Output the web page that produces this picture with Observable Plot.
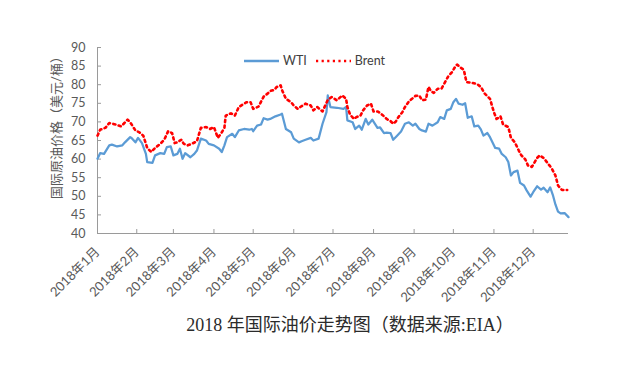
<!DOCTYPE html>
<html>
<head>
<meta charset="utf-8">
<script src="https://cdn.jsdelivr.net/npm/d3@7"></script>
<script src="https://cdn.jsdelivr.net/npm/@observablehq/plot@0.6"></script>
<style>
  html, body { margin: 0; padding: 0; background: #fff; }
  #wrap { position: relative; width: 629px; height: 368px; overflow: hidden; }
  #legend { position: absolute; top: 53px; left: 244px; display: flex; align-items: center;
            font: 12.5px Lato, "Noto Sans CJK SC", sans-serif; color: #404040; }
  #legend .item { display: flex; align-items: center; margin-right: 9px; }
  #legend svg { margin-right: 4px; }
  #title { position: absolute; top: 314px; left: 50px; width: 600px; text-align: center;
           font: 18px "Liberation Serif", "Noto Sans CJK SC", serif; line-height: 22px; color: #2b2b2b; }
</style>
</head>
<body>
<div id="wrap">
  <div id="chart"></div>
  <div id="legend"></div>
  <div id="title"></div>
</div>
<script>
const titleText = "2018 年国际油价走势图（数据来源:EIA）";
const yTitle = "国际原油价格（美元/桶）";
const seriesNames = ["WTI", "Brent"];

const monthTickDates = ["2018-01-02","2018-02-01","2018-03-01","2018-04-01","2018-05-01","2018-06-01",
  "2018-07-01","2018-08-01","2018-09-01","2018-10-01","2018-11-01","2018-12-01"];
const monthLabels = ["2018年1月","2018年2月","2018年3月","2018年4月","2018年5月","2018年6月",
  "2018年7月","2018年8月","2018年9月","2018年10月","2018年11月","2018年12月"];
const yTicks = [40, 45, 50, 55, 60, 65, 70, 75, 80, 85, 90];
const xDomain = ["2018-01-02", "2018-12-28"];

const wtiDates = ["2018-01-02","2018-01-04","2018-01-07","2018-01-11","2018-01-13","2018-01-17","2018-01-21","2018-01-23","2018-01-27","2018-01-28",
  "2018-01-31","2018-02-02","2018-02-05","2018-02-08","2018-02-09","2018-02-13","2018-02-15","2018-02-19","2018-02-22","2018-02-24",
  "2018-02-27","2018-03-01","2018-03-04","2018-03-06","2018-03-08","2018-03-10","2018-03-14","2018-03-17","2018-03-19","2018-03-22",
  "2018-03-26","2018-03-28","2018-04-01","2018-04-05","2018-04-07","2018-04-09","2018-04-11","2018-04-15","2018-04-17","2018-04-20",
  "2018-04-24","2018-04-28","2018-04-30","2018-05-01","2018-05-04","2018-05-07","2018-05-09","2018-05-12","2018-05-14","2018-05-18",
  "2018-05-22","2018-05-23","2018-05-26","2018-05-30","2018-06-01","2018-06-05","2018-06-07","2018-06-10","2018-06-14","2018-06-16",
  "2018-06-20","2018-06-23","2018-06-26","2018-06-27","2018-06-29","2018-07-04","2018-07-09","2018-07-11","2018-07-12","2018-07-16",
  "2018-07-18","2018-07-21","2018-07-23","2018-07-26","2018-07-28","2018-07-31","2018-08-04","2018-08-06","2018-08-09","2018-08-11",
  "2018-08-14","2018-08-16","2018-08-19","2018-08-22","2018-08-25","2018-08-28","2018-08-31","2018-09-02","2018-09-05","2018-09-07",
  "2018-09-10","2018-09-12","2018-09-15","2018-09-19","2018-09-21","2018-09-24","2018-09-26","2018-09-29","2018-10-01","2018-10-03",
  "2018-10-05","2018-10-08","2018-10-10","2018-10-12","2018-10-15","2018-10-17","2018-10-20","2018-10-22","2018-10-24","2018-10-27",
  "2018-10-29","2018-11-02","2018-11-05","2018-11-07","2018-11-10","2018-11-12","2018-11-14","2018-11-16","2018-11-19","2018-11-21",
  "2018-11-24","2018-11-26","2018-11-29","2018-12-01","2018-12-04","2018-12-07","2018-12-09","2018-12-12","2018-12-14","2018-12-16",
  "2018-12-18","2018-12-20","2018-12-22","2018-12-25","2018-12-28"];
const wtiPrices = [60.1,61.6,61.4,63.7,63.9,63.4,63.7,64.5,65.9,65.7,
  64.5,65.7,64.3,61.4,59.2,59.0,61.0,61.6,61.4,63.2,
  63.4,61.0,61.4,62.8,60.1,61.6,60.5,61.4,62.3,65.5,
  65.0,64.1,63.7,62.8,61.9,63.7,65.9,66.8,65.9,67.7,
  68.1,67.9,68.1,67.5,69.0,69.3,71.0,70.6,70.8,71.5,
  72.0,72.2,68.1,67.2,65.5,64.5,64.8,65.2,65.7,65.0,
  65.5,69.5,72.6,77.1,74.0,73.8,73.5,74.0,70.4,69.9,
  68.1,69.0,67.9,70.8,69.3,70.6,68.4,68.5,67.0,67.1,
  67.0,65.2,66.3,67.4,69.5,69.9,69.0,69.5,68.1,67.7,
  67.4,69.5,69.0,69.9,71.3,70.8,73.1,73.5,75.3,76.2,
  74.9,74.6,75.0,71.1,71.5,68.8,69.0,68.0,66.3,67.0,
  65.9,63.0,62.8,61.4,60.5,59.2,55.6,56.5,56.9,53.6,
  52.9,51.6,49.9,51.1,52.7,51.8,52.3,51.1,52.4,50.4,
  47.8,45.9,45.4,45.5,44.4];

const brentDates = ["2018-01-02","2018-01-04","2018-01-08","2018-01-11","2018-01-16","2018-01-20","2018-01-22","2018-01-25","2018-01-27","2018-01-29",
  "2018-01-31","2018-02-03","2018-02-06","2018-02-09","2018-02-12","2018-02-15","2018-02-19","2018-02-22","2018-02-25","2018-02-28",
  "2018-03-02","2018-03-04","2018-03-07","2018-03-09","2018-03-12","2018-03-15","2018-03-19","2018-03-22","2018-03-26","2018-03-29",
  "2018-04-01","2018-04-04","2018-04-07","2018-04-09","2018-04-10","2018-04-14","2018-04-17","2018-04-20","2018-04-24","2018-04-26",
  "2018-04-29","2018-05-01","2018-05-05","2018-05-09","2018-05-12","2018-05-14","2018-05-17","2018-05-19","2018-05-22","2018-05-23",
  "2018-05-26","2018-05-30","2018-06-01","2018-06-04","2018-06-06","2018-06-10","2018-06-14","2018-06-16","2018-06-19","2018-06-23",
  "2018-06-27","2018-06-30","2018-07-04","2018-07-08","2018-07-11","2018-07-12","2018-07-14","2018-07-17","2018-07-19","2018-07-22",
  "2018-07-24","2018-07-27","2018-07-30","2018-08-01","2018-08-04","2018-08-06","2018-08-09","2018-08-11","2018-08-14","2018-08-16",
  "2018-08-18","2018-08-20","2018-08-23","2018-08-25","2018-08-28","2018-08-31","2018-09-02","2018-09-05","2018-09-07","2018-09-10",
  "2018-09-12","2018-09-14","2018-09-16","2018-09-19","2018-09-22","2018-09-25","2018-09-27","2018-09-30","2018-10-03","2018-10-04",
  "2018-10-06","2018-10-09","2018-10-11","2018-10-15","2018-10-19","2018-10-22","2018-10-25","2018-10-29","2018-11-01","2018-11-03",
  "2018-11-06","2018-11-08","2018-11-12","2018-11-14","2018-11-17","2018-11-20","2018-11-22","2018-11-25","2018-11-27","2018-11-30",
  "2018-12-04","2018-12-06","2018-12-09","2018-12-11","2018-12-15","2018-12-18","2018-12-20","2018-12-23","2018-12-27"];
const brentPrices = [66.3,67.9,68.4,69.7,69.3,68.8,69.5,70.6,69.9,68.8,
  67.7,67.2,66.3,63.0,61.9,63.0,64.1,65.2,67.5,67.0,
  64.3,64.5,65.2,64.1,63.7,64.1,64.8,68.4,68.6,68.1,
  68.6,65.7,67.2,68.4,71.7,72.3,71.7,74.0,74.9,75.3,
  75.3,73.5,74.1,76.8,77.6,78.3,78.6,79.4,79.8,78.6,
  76.2,75.3,74.4,73.5,74.0,74.9,74.4,73.1,74.0,72.8,
  75.9,76.7,75.8,77.1,76.2,74.0,72.0,70.8,71.3,71.7,
  73.1,74.4,74.9,72.8,72.8,72.4,71.5,70.8,70.2,69.5,
  70.1,71.3,72.6,74.0,75.5,76.4,77.0,77.1,75.8,76.0,
  79.4,78.2,77.8,78.9,79.0,80.9,82.2,83.4,85.2,85.4,
  84.7,84.0,80.7,80.5,80.2,79.4,77.6,76.2,72.6,70.8,
  71.5,69.3,68.6,65.7,64.5,62.3,61.0,59.9,58.3,57.9,
  60.3,61.0,60.3,59.4,57.6,55.6,52.9,51.7,51.7];

const colors = {WTI: "#5B9BD5", Brent: "#FF0000"};
const parse = s => new Date(s + "T00:00:00Z");
const wti = wtiDates.map((d, i) => ({date: parse(d), value: wtiPrices[i]}));
const brent = brentDates.map((d, i) => ({date: parse(d), value: brentPrices[i]}));
const tickDates = monthTickDates.map(parse);
const labelByTime = new Map(tickDates.map((d, i) => [+d, monthLabels[i]]));
const axisColor = "#9a9a9a";
const fontFamily = 'Lato, "Noto Sans CJK SC", sans-serif';
const brentDash = "2.2 3.4";

const chart = Plot.plot({
  width: 629,
  height: 305,
  marginLeft: 97,
  marginRight: 61,
  marginTop: 47,
  marginBottom: 72,
  style: {fontFamily, fontSize: "12px", color: "#595959", background: "white"},
  x: {type: "utc", domain: xDomain.map(parse)},
  y: {domain: [40, 90]},
  marks: [
    Plot.axisY({ticks: yTicks, tickSize: -4, tickPadding: 16, stroke: axisColor, label: null, fontSize: 12.5}),
    Plot.axisX({ticks: tickDates, tickFormat: d => labelByTime.get(+d), tickRotate: -45,
                tickSize: -4, tickPadding: 20, stroke: axisColor, label: null, fontSize: 13}),
    Plot.ruleX([parse(xDomain[0])], {stroke: axisColor}),
    Plot.ruleY([40], {stroke: axisColor}),
    Plot.line(wti, {x: "date", y: "value", stroke: colors.WTI, strokeWidth: 2.25, strokeLinejoin: "round"}),
    Plot.line(brent, {x: "date", y: "value", stroke: colors.Brent, strokeWidth: 2.6, strokeDasharray: brentDash}),
    Plot.text([yTitle], {frameAnchor: "left", textAnchor: "middle", dx: -41, dy: -16, rotate: -90, fontSize: 13, fill: "#595959"})
  ]
});
document.getElementById("chart").append(chart);

const legend = document.getElementById("legend");
seriesNames.forEach(name => {
  const item = document.createElement("div");
  item.className = "item";
  const dash = name === "Brent" ? `stroke-dasharray="${brentDash}"` : "";
  item.innerHTML = `<svg width="35" height="6"><line x1="0" x2="35" y1="3" y2="3" stroke="${colors[name]}" stroke-width="2.4" ${dash}/></svg><span>${name}</span>`;
  legend.append(item);
});
document.getElementById("title").textContent = titleText;
</script>
</body>
</html>
